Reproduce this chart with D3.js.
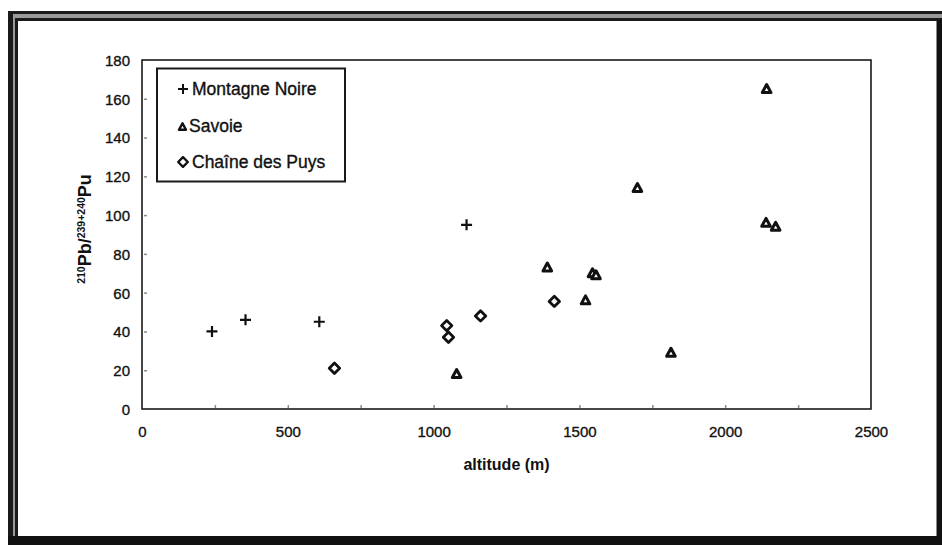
<!DOCTYPE html>
<html>
<head>
<meta charset="utf-8">
<script src="https://cdn.jsdelivr.net/npm/d3@7"></script>
<style>
  html, body { margin: 0; padding: 0; background: #fff; }
  svg { display: block; }
  text { font-family: "Liberation Sans", Arial, sans-serif; fill: #111; }
</style>
</head>
<body>
<svg id="chart" width="942" height="545"></svg>
<script>
// ---- data ----
const montagneX = [240, 355, 608, 1113];
const montagneY = [40, 46, 45, 95];
const savoieX = [1079, 1390, 1521, 1545, 1557, 1699, 1814, 2140, 2142, 2173];
const savoieY = [18, 73, 56, 70, 69, 114, 29, 96, 165, 94];
const puysX = [660, 1045, 1051, 1161, 1414];
const puysY = [21, 43, 37, 48, 55.5];
const xTickLabels = [0, 500, 1000, 1500, 2000, 2500];
const yTickLabels = [0, 20, 40, 60, 80, 100, 120, 140, 160, 180];
const xMinorTicks = [250, 500, 750, 1000, 1250, 1500, 1750, 2000, 2250];
const seriesNames = ["Montagne Noire", "Savoie", "Chaîne des Puys"];

const svg = d3.select("#chart");
const W = 942, H = 545;
const m = { left: 142, top: 60, right: 871, bottom: 409 };
const ink = "#111";

// ---- outer frame ----
const fr = svg.append("g");
fr.append("rect").attr("x", 0).attr("y", 0).attr("width", W).attr("height", H).attr("fill", "#fff");
fr.append("rect").attr("x", 8).attr("y", 11).attr("width", W - 8).attr("height", 3).attr("fill", "#1a1a1a");
fr.append("rect").attr("x", 8).attr("y", 14).attr("width", W - 8).attr("height", 4).attr("fill", "#9a9a9a");
fr.append("rect").attr("x", 15).attr("y", 18).attr("width", W - 15).attr("height", 3).attr("fill", "#1a1a1a");
fr.append("rect").attr("x", 8).attr("y", 11).attr("width", 5).attr("height", H - 11).attr("fill", "#1a1a1a");
fr.append("rect").attr("x", 13).attr("y", 14).attr("width", 2).attr("height", H - 14).attr("fill", "#9a9a9a");
fr.append("rect").attr("x", 15).attr("y", 18).attr("width", 3).attr("height", H - 18).attr("fill", "#1a1a1a");
fr.append("rect").attr("x", 936).attr("y", 21).attr("width", 1).attr("height", H - 21).attr("fill", "#888");
fr.append("rect").attr("x", 937).attr("y", 20).attr("width", W - 937).attr("height", H - 20).attr("fill", ink);
fr.append("rect").attr("x", 8).attr("y", 536).attr("width", W - 8).attr("height", H - 536).attr("fill", ink);

// ---- scales ----
const x = d3.scaleLinear().domain([0, 2500]).range([m.left, m.right]);
const y = d3.scaleLinear().domain([0, 180]).range([m.bottom, m.top]);

// minor tick marks (faint, inside)
const xAxisMinor = d3.axisBottom(x).tickValues(xMinorTicks).tickSize(-3).tickFormat("");
svg.append("g").attr("transform", `translate(0,${m.bottom - 1})`).call(xAxisMinor)
  .call(g => g.select(".domain").remove())
  .call(g => g.selectAll("line").attr("stroke", "#8a8a8a").attr("stroke-width", 1.5));
const yAxisMinor = d3.axisLeft(y).tickValues(yTickLabels.slice(1, -1)).tickSize(-3).tickFormat("");
svg.append("g").attr("transform", `translate(${m.left + 2},0)`).call(yAxisMinor)
  .call(g => g.select(".domain").remove())
  .call(g => g.selectAll("line").attr("stroke", "#8a8a8a").attr("stroke-width", 1.5));

// plot border
svg.append("rect").attr("x", m.left).attr("y", m.top)
  .attr("width", m.right - m.left).attr("height", m.bottom - m.top)
  .attr("fill", "none").attr("stroke", "#1a1a1a").attr("stroke-width", 1.6);

// tick labels
function styleTick(sel) {
  sel.style("font-size", "15px").style("font-family", "Liberation Sans, Arial, sans-serif")
    .attr("fill", ink).attr("stroke", ink).attr("stroke-width", 0.35);
}
const xAxis = d3.axisBottom(x).tickValues(xTickLabels).tickFormat(d3.format("d")).tickSize(0).tickPadding(0);
svg.append("g").attr("transform", `translate(0,${m.bottom})`).call(xAxis)
  .call(g => g.select(".domain").remove())
  .call(g => g.selectAll("text").attr("y", 28).attr("dy", 0).call(styleTick));
const yAxis = d3.axisLeft(y).tickValues(yTickLabels).tickFormat(d3.format("d")).tickSize(0).tickPadding(12);
svg.append("g").attr("transform", `translate(${m.left},0)`).call(yAxis)
  .call(g => g.select(".domain").remove())
  .call(g => g.selectAll("text").attr("dy", "0.36em").call(styleTick));

// axis titles
svg.append("text").attr("x", (m.left + m.right) / 2).attr("y", 470)
  .attr("text-anchor", "middle").attr("font-weight", "bold").attr("font-size", 16)
  .text("altitude (m)");
const yt = svg.append("text")
  .attr("transform", `translate(91,229) rotate(-90)`)
  .attr("text-anchor", "middle").attr("font-weight", "bold").attr("font-size", 18);
yt.append("tspan").attr("font-size", 10.5).attr("baseline-shift", "6").text("210");
yt.append("tspan").text("Pb/");
yt.append("tspan").attr("font-size", 10.5).attr("baseline-shift", "6").text("239+240");
yt.append("tspan").text("Pu");

// ---- marker drawing ----
function plus(g, cx, cy, s, sw) {
  g.append("path").attr("d", `M${cx - s},${cy}H${cx + s}M${cx},${cy - s}V${cy + s}`)
    .attr("stroke", ink).attr("stroke-width", sw).attr("fill", "none");
}
function tri(g, cx, cy, s, sw) {
  g.append("path").attr("d", `M${cx},${cy - s * 1.05}L${cx + s},${cy + s * 0.8}L${cx - s},${cy + s * 0.8}Z`)
    .attr("stroke", ink).attr("stroke-width", sw).attr("fill", "#fff").attr("stroke-linejoin", "round");
}
function diam(g, cx, cy, s, sw) {
  g.append("path").attr("d", `M${cx},${cy - s}L${cx + s},${cy}L${cx},${cy + s}L${cx - s},${cy}Z`)
    .attr("stroke", ink).attr("stroke-width", sw).attr("fill", "#fff").attr("stroke-linejoin", "round");
}

const pts = svg.append("g");
montagneX.forEach((v, i) => plus(pts, x(v), y(montagneY[i]), 5.5, 2.2));
puysX.forEach((v, i) => diam(pts, x(v), y(puysY[i]), 5.2, 2.8));
savoieX.forEach((v, i) => tri(pts, x(v), y(savoieY[i]), 4.3, 3));

// ---- legend ----
const lg = svg.append("g");
lg.append("rect").attr("x", 157).attr("y", 68.5).attr("width", 188).attr("height", 113)
  .attr("fill", "#fff").attr("stroke", "#1a1a1a").attr("stroke-width", 2);
const rowsY = [89, 126, 162];
plus(lg, 183, rowsY[0], 5, 2);
tri(lg, 182.5, rowsY[1] + 1, 3.5, 2.4);
diam(lg, 183, rowsY[2], 4.8, 2.4);
seriesNames.forEach((n, i) => {
  lg.append("text").attr("x", i === 1 ? 189 : 192).attr("y", rowsY[i]).attr("dy", "0.36em")
    .attr("font-size", 17.5).attr("stroke", ink).attr("stroke-width", 0.35).text(n);
});
</script>
</body>
</html>
